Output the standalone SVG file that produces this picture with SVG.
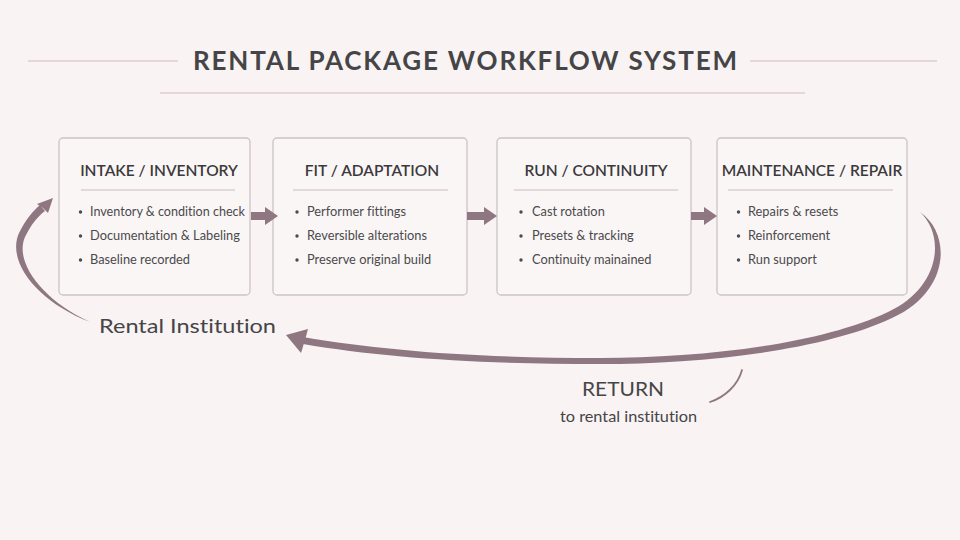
<svg xmlns="http://www.w3.org/2000/svg" width="960" height="540" viewBox="0 0 960 540">
<style>
.bg{fill:#f9f3f4}
.rule{stroke:#cdbcc3;stroke-width:1.2;fill:none}
.box{fill:#faf6f6;stroke:#cdc3c6;stroke-width:1.3}
.hd{font-family:"Lato","Open Sans",sans-serif;font-size:15.5px;fill:#3a3a3c;text-anchor:middle;font-weight:600}
.div{stroke:#cbbcc2;stroke-width:1.2}
.it{font-family:"Lato","Open Sans",sans-serif;font-size:12.8px;fill:#4a4a4c;font-variant-ligatures:none}
.dot{fill:#4a4a4c}
.arr{fill:#8e7780}
.title{font-family:"Lato","Open Sans",sans-serif;font-size:26px;font-weight:bold;fill:#454547;text-anchor:middle}
.lbl{font-family:"Lato","Open Sans",sans-serif;fill:#454547;font-variant-ligatures:none}
</style>
<rect class="bg" x="0" y="0" width="960" height="540"/>
<g id="title">
<line class="rule" x1="28" y1="61" x2="178" y2="61"/>
<line class="rule" x1="750" y1="61" x2="937" y2="61"/>
<line class="rule" x1="160" y1="93" x2="805" y2="93"/>
<text class="title" x="465" y="70" textLength="544" lengthAdjust="spacing">RENTAL PACKAGE WORKFLOW SYSTEM</text>
</g>
<g id="intake">
<rect class="box" x="59" y="138" width="191" height="157" rx="4"/>
<text class="hd" x="159" y="176">INTAKE / INVENTORY</text>
<line class="div" x1="81" y1="190" x2="235" y2="190"/>
<circle class="dot" cx="80.5" cy="212" r="1.7"/><text class="it" x="90" y="216" textLength="155" lengthAdjust="spacingAndGlyphs">Inventory &amp; condition check</text>
<circle class="dot" cx="80.5" cy="236" r="1.7"/><text class="it" x="90" y="240">Documentation &amp; Labeling</text>
<circle class="dot" cx="80.5" cy="260" r="1.7"/><text class="it" x="90" y="264">Baseline recorded</text>
</g>
<g id="fit">
<rect class="box" x="273" y="138" width="194" height="157" rx="4"/>
<text class="hd" x="372" y="176">FIT / ADAPTATION</text>
<line class="div" x1="293" y1="190" x2="448" y2="190"/>
<circle class="dot" cx="297" cy="212" r="1.7"/><text class="it" x="307" y="216">Performer fittings</text>
<circle class="dot" cx="297" cy="236" r="1.7"/><text class="it" x="307" y="240">Reversible alterations</text>
<circle class="dot" cx="297" cy="260" r="1.7"/><text class="it" x="307" y="264">Preserve original build</text>
</g>
<g id="run">
<rect class="box" x="497" y="138" width="194" height="157" rx="4"/>
<text class="hd" x="596" y="176">RUN / CONTINUITY</text>
<line class="div" x1="514" y1="190" x2="678" y2="190"/>
<circle class="dot" cx="521" cy="212" r="1.7"/><text class="it" x="532" y="216">Cast rotation</text>
<circle class="dot" cx="521" cy="236" r="1.7"/><text class="it" x="532" y="240">Presets &amp; tracking</text>
<circle class="dot" cx="521" cy="260" r="1.7"/><text class="it" x="532" y="264">Continuity mainained</text>
</g>
<g id="maintenance">
<rect class="box" x="717" y="138" width="190" height="157" rx="4"/>
<text class="hd" x="812" y="176">MAINTENANCE / REPAIR</text>
<line class="div" x1="728" y1="190" x2="893" y2="190"/>
<circle class="dot" cx="738.5" cy="212" r="1.7"/><text class="it" x="748" y="216">Repairs &amp; resets</text>
<circle class="dot" cx="738.5" cy="236" r="1.7"/><text class="it" x="748" y="240">Reinforcement</text>
<circle class="dot" cx="738.5" cy="260" r="1.7"/><text class="it" x="748" y="264">Run support</text>
</g>
<g id="labels">
<text class="lbl" x="99" y="333" font-size="19" textLength="177" lengthAdjust="spacingAndGlyphs">Rental Institution</text>
<text class="lbl" x="623" y="396" font-size="18.5" text-anchor="middle" textLength="82" lengthAdjust="spacingAndGlyphs">RETURN</text>
<text class="lbl" x="628.5" y="422" font-size="15" text-anchor="middle" textLength="137" lengthAdjust="spacingAndGlyphs">to rental institution</text>
</g>
<g id="connectors">
<path class="arr" d="M251,212 H265 V207 L278,216 L265,225 V220 H251 Z"/>
<path class="arr" d="M467,212 H484 V207 L497,216 L484,225 V220 H467 Z"/>
<path class="arr" d="M691,212 H704 V207 L717,216 L704,225 V220 H691 Z"/>
<path class="arr" d="M920,212 C952,234 950,292 892,318 C822,351 700,364 600,364 C480,364 385,358 303,344 L303,337 C385,351 480,358 600,358 C700,358 818,345 888,312 C940,288 946,236 920,212 Z"/>
<path class="arr" d="M286,335 L308,329 L305,340 L301,353 Z"/>
<path class="arr" d="M90,322 C38,302 6,262 19,233 C26,219 33,211 40,205 L45,211 C37,217 31,225 25,237 C14,262 42,300 90,322 Z"/>
<path class="arr" d="M53,198 L37,204 L43,208 L48,213 Z"/>
<path d="M742,370 C738,385 725,397 710,402" fill="none" stroke="#8e7780" stroke-width="1.8" stroke-linecap="round"/>
</g>
</svg>
